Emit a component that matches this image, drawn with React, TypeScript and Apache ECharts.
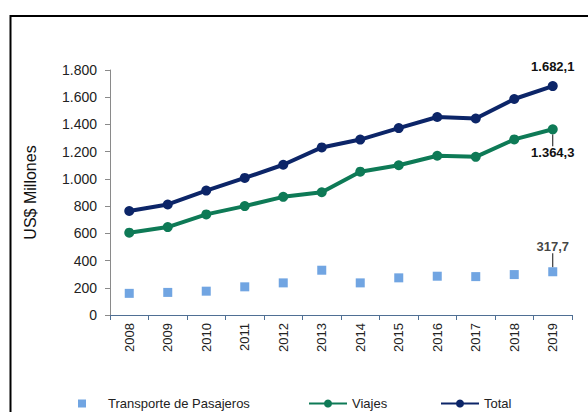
import React, { useEffect, useRef } from "react";
import * as echarts from "echarts";

const years = ["2008", "2009", "2010", "2011", "2012", "2013", "2014", "2015", "2016", "2017", "2018", "2019"];
const transporte = [159, 166, 175, 207, 236, 329, 236, 273, 285, 282, 297, 317.7];
const viajes = [605, 646, 739, 800, 868, 902, 1053, 1100, 1170, 1162, 1290, 1364.3];
const total = [764, 812, 914, 1007, 1104, 1231, 1289, 1373, 1455, 1444, 1587, 1682.1];
const yTicks = { min: 0, max: 1800, interval: 200 };

const fmtEs = (v: number, dec = 0) => {
  const s = v.toFixed(dec);
  const [i, d] = s.split(".");
  const ii = i.replace(/\B(?=(\d{3})+(?!\d))/g, ".");
  return d ? ii + "," + d : ii;
};

const C_TOTAL = "#0c2568";
const C_VIAJES = "#0e7a56";
const C_TRANS = "#4d8fdb";
const FONT = "Liberation Sans, Arial, sans-serif";

function withLastLabel(arr: number[]) {
  return arr.map((v, i) =>
    i === arr.length - 1 ? { value: v, label: { show: true } } : v
  );
}

export default function App() {
  const ref = useRef<HTMLDivElement>(null);
  useEffect(() => {
    if (!ref.current) return;
    const chart = echarts.init(ref.current, undefined, { renderer: "svg" });
    const labelStyle = {
      fontFamily: FONT,
      fontSize: 13,
      fontWeight: "bold" as const,
      color: "#111",
      formatter: (p: any) => fmtEs(p.value, 1),
    };
    const legendText = { fontFamily: FONT, fontSize: 13, color: "#222" };
    chart.setOption({
      animation: false,
      backgroundColor: "#fff",
      textStyle: { fontFamily: FONT },
      grid: { left: 110, right: 16, top: 70, bottom: 97 },
      graphic: [
        {
          type: "rect",
          shape: { x: 10.5, y: 16, width: 700, height: 600 },
          style: { fill: "none", stroke: "#000", lineWidth: 2 },
          silent: true,
        },
      ],
      legend: [
        {
          data: [{ name: "Transporte de Pasajeros", icon: "rect" }],
          left: 78,
          top: 397,
          padding: 0,
          itemWidth: 8,
          itemHeight: 8,
          textStyle: { ...legendText, padding: [0, 0, 0, 17] },
        },
        {
          data: ["Viajes"],
          left: 308,
          top: 397,
          padding: 0,
          itemWidth: 38,
          itemHeight: 10,
          textStyle: legendText,
        },
        {
          data: ["Total"],
          left: 440,
          top: 397,
          padding: 0,
          itemWidth: 38,
          itemHeight: 10,
          textStyle: legendText,
        },
      ],
      xAxis: {
        type: "category",
        data: years,
        boundaryGap: true,
        axisLine: { lineStyle: { color: "#4f6f94", width: 1 } },
        axisTick: { show: true, length: 5, lineStyle: { color: "#4f6f94" } },
        axisLabel: { rotate: 90, fontSize: 13, color: "#222", fontFamily: FONT, margin: 8 },
      },
      yAxis: {
        type: "value",
        min: yTicks.min,
        max: yTicks.max,
        interval: yTicks.interval,
        name: "US$ Millones",
        nameLocation: "middle",
        nameGap: 72,
        nameTextStyle: { fontSize: 16, color: "#111", fontFamily: FONT },
        splitLine: { show: false },
        axisLine: { show: true, lineStyle: { color: "#8a8a8a" } },
        axisTick: { show: true, length: 5, lineStyle: { color: "#8a8a8a" } },
        axisLabel: {
          fontSize: 14,
          color: "#222",
          fontFamily: FONT,
          margin: 13,
          formatter: (v: number) => fmtEs(v),
        },
      },
      series: [
        {
          name: "Transporte de Pasajeros",
          type: "scatter",
          symbol: "rect",
          symbolSize: 9,
          itemStyle: { color: C_TRANS },
          data: withLastLabel(transporte),
          label: { show: false, position: "top", distance: 2, ...labelStyle },
          labelLayout: { dy: -12 },
          labelLine: { show: true, lineStyle: { color: "#111", width: 1 } },
        },
        {
          name: "Viajes",
          type: "line",
          symbol: "circle",
          symbolSize: 10,
          lineStyle: { color: C_VIAJES, width: 4 },
          itemStyle: { color: C_VIAJES },
          data: withLastLabel(viajes),
          label: { show: false, position: "bottom", distance: 2, ...labelStyle },
          labelLayout: { dy: 10 },
          labelLine: { show: true, lineStyle: { color: "#111", width: 1 } },
        },
        {
          name: "Total",
          type: "line",
          symbol: "circle",
          symbolSize: 10,
          lineStyle: { color: C_TOTAL, width: 4 },
          itemStyle: { color: C_TOTAL },
          data: withLastLabel(total),
          label: { show: false, position: "top", distance: 8, ...labelStyle },
        },
      ],
    });
    return () => chart.dispose();
  }, []);
  return (
    <div
      ref={ref}
      style={{ position: "fixed", left: 0, top: 0, width: 588, height: 412 }}
    />
  );
}
